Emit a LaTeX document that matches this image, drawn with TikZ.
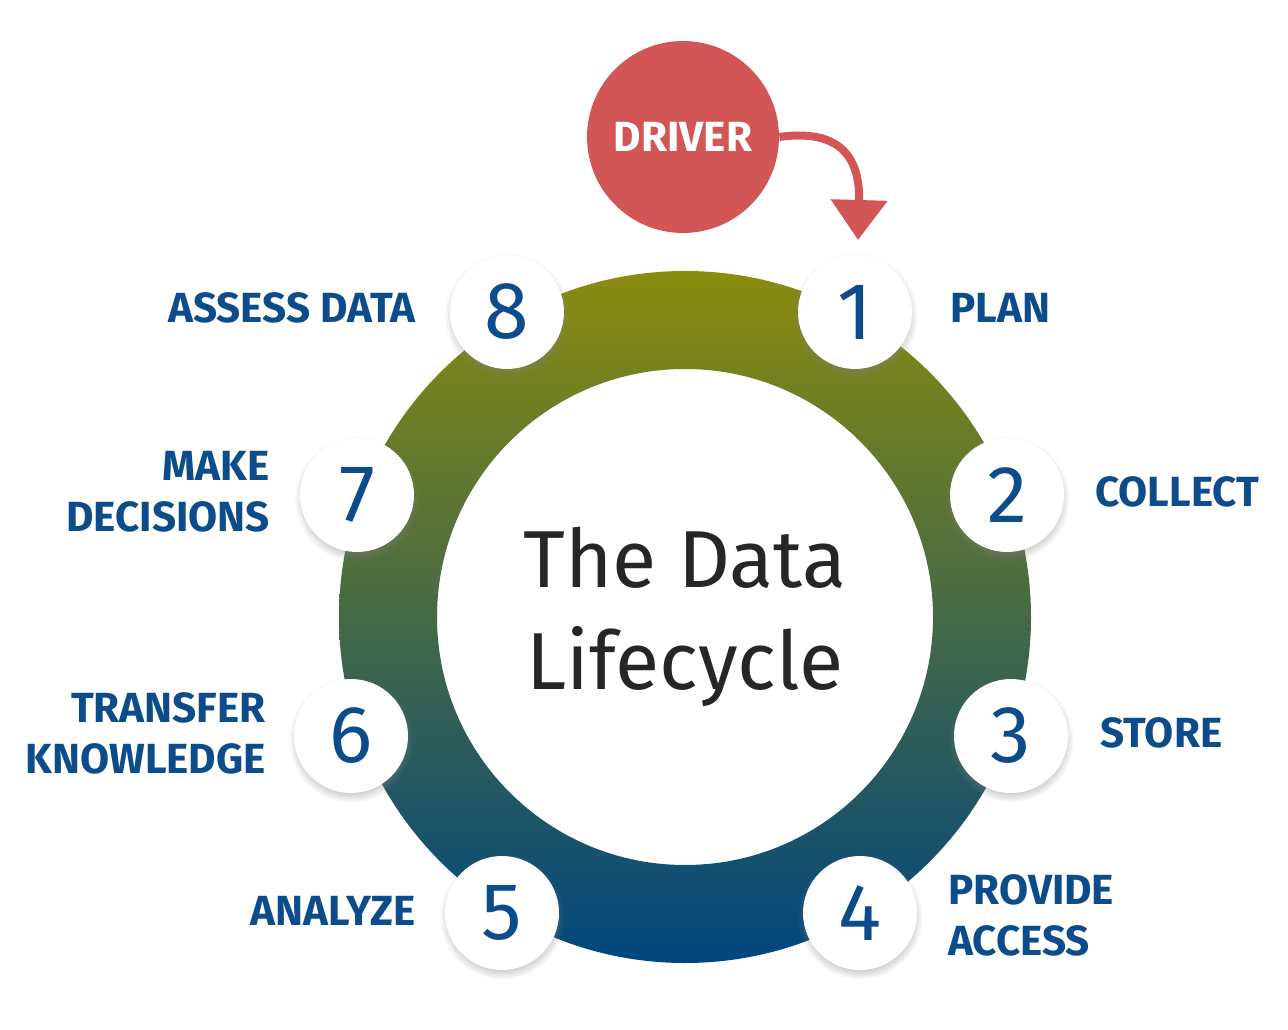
\documentclass[tikz,border=0pt]{standalone}
\usepackage{fontspec}
\setmainfont{Fira Sans}
\usetikzlibrary{shadows,arrows.meta}
\definecolor{stepblue}{HTML}{0D4C8A}
\definecolor{driverred}{HTML}{D35656}
\definecolor{ringtop}{HTML}{8A8C0E}
\definecolor{ringbot}{HTML}{00467F}
\begin{document}
\begin{tikzpicture}[x=0.02cm,y=0.02cm,
  stage/.style={circle,fill=white,minimum size=2.28cm,inner sep=0pt,
    circular drop shadow={shadow xshift=0pt,shadow yshift=-2pt,opacity=.35},
    font=\fontsize{46}{46}\selectfont,text=stepblue},
  lbl/.style={font=\fontsize{24}{29}\selectfont\bfseries,text=stepblue,inner sep=0pt}]
\useasboundingbox (0,0) rectangle (1288,1029);
\coordinate (c) at (685,412);
\shade[top color=ringtop,bottom color=ringbot,even odd rule]
  (c) circle (346) (c) circle (248);
\node[font=\fontsize{46}{58}\selectfont,text=black!85,align=center] (title) at (c) {The Data\\Lifecycle};

\foreach \n/\x/\y in {1/855/717,2/1007/534,3/1011/293,4/860/116,5/502/116,6/351/293,7/357/534,8/507/717}
  \node[stage] (s\n) at (\x,\y) {\n};

\node[lbl,anchor=west] (plan) at (950,721) {PLAN};
\node[lbl,anchor=west] (collect) at (1095,537) {COLLECT};
\node[lbl,anchor=west] (store) at (1100,296) {STORE};
\node[lbl,anchor=west,align=left] (access) at (948,114) {PROVIDE\\ACCESS};
\node[lbl,anchor=east] (analyze) at (416,118) {ANALYZE};
\node[lbl,anchor=east,align=right] (transfer) at (266,296) {TRANSFER\\KNOWLEDGE};
\node[lbl,anchor=east,align=right] (decide) at (270,537) {MAKE\\DECISIONS};
\node[lbl,anchor=east] (assess) at (416,721) {ASSESS DATA};

\node[circle,fill=driverred,minimum size=3.84cm,text=white,
  font=\fontsize{24}{24}\selectfont\bfseries] (driver) at (683,892) {DRIVER};
\coordinate (tip) at (858,789);
\draw[driverred,line width=0.16cm,-{Triangle[length=0.8cm,width=1.1cm]}]
  (driver.east) .. controls (850,902) and (860,860) .. (tip);
\end{tikzpicture}
\end{document}
